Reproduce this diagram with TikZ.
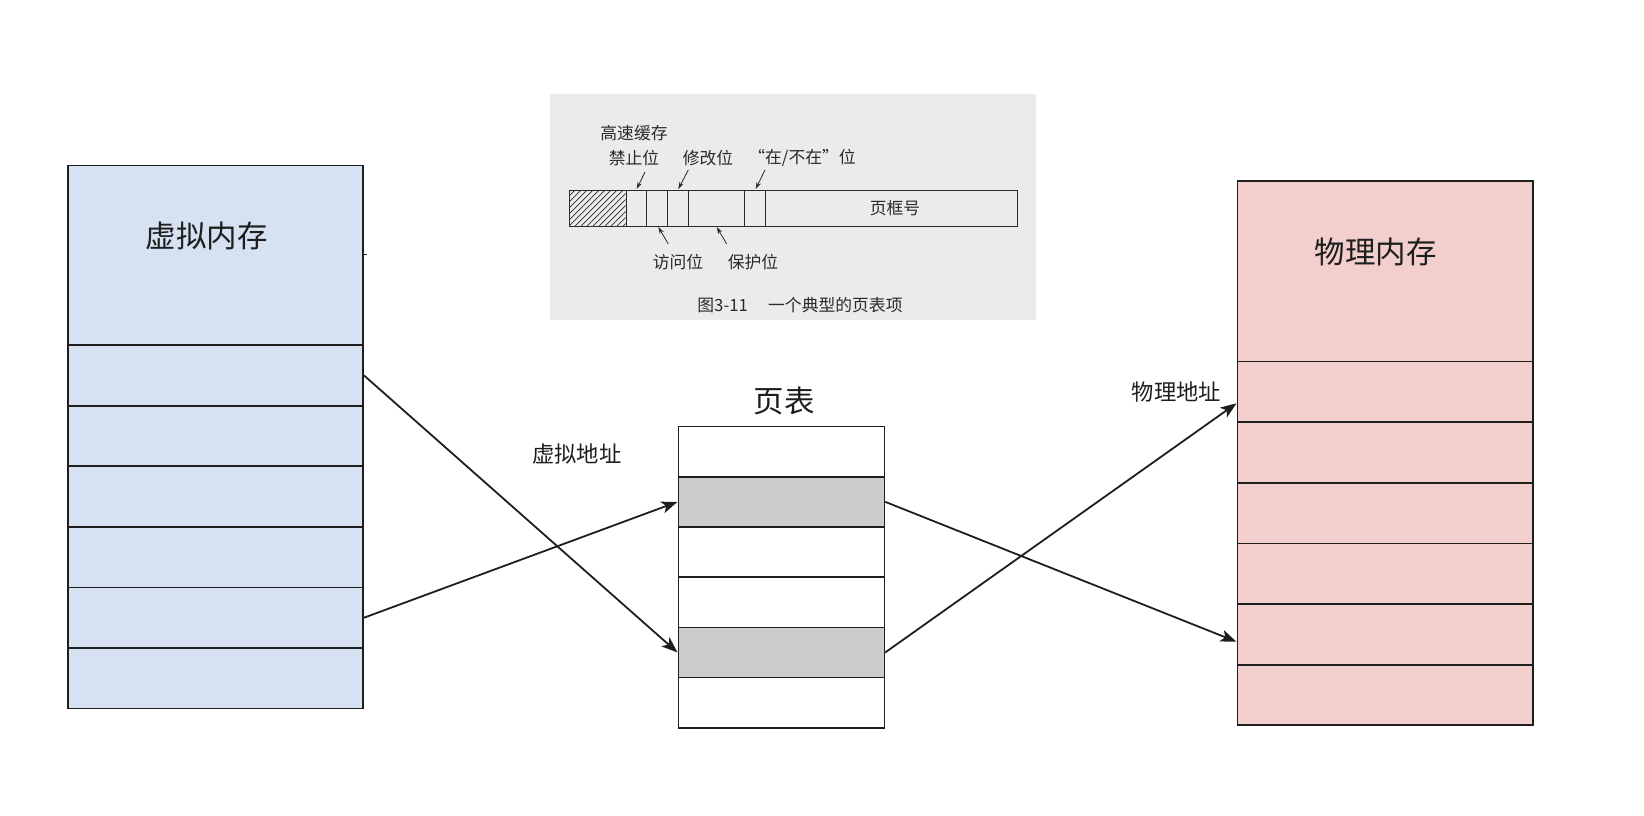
\documentclass[tikz,border=0pt]{standalone}
\usepackage{fontspec}
\setmainfont{Noto Sans CJK SC}
\usetikzlibrary{arrows.meta}
\definecolor{vmfill}{HTML}{D6E2F2}
\definecolor{pmfill}{HTML}{F2CFCD}
\definecolor{ptgray}{HTML}{CCCCCC}
\definecolor{linec}{HTML}{1E1E1E}
\definecolor{scan}{HTML}{EBEBEB}
\definecolor{scanink}{HTML}{2A2A2A}
\begin{document}
\begin{tikzpicture}[x=1pt,y=-1pt,
  cell/.style={draw=linec, line width=1.7pt, rectangle, inner sep=0pt, anchor=north west},
  vmcell/.style={cell, fill=vmfill, minimum width=295.2pt},
  pmcell/.style={cell, fill=pmfill, minimum width=295.4pt},
  ptcell/.style={cell, fill=white, minimum width=206pt, minimum height=50.2pt},
  ptsel/.style={ptcell, fill=ptgray},
  bigtext/.style={font=\fontsize{30.5}{36}\selectfont, text=linec},
  midtext/.style={font=\fontsize{22.3}{27}\selectfont, text=linec},
  bit/.style={draw=scanink, line width=1.1pt, rectangle, inner sep=0pt, anchor=north west, minimum height=36pt},
  scantext/.style={font=\fontsize{16.8}{25}\selectfont, text=scanink, inner sep=0pt},
  conn/.style={draw=linec, line width=1.8pt, -{Stealth[length=16pt,width=12pt,inset=4pt]}},
  pointer/.style={draw=scanink, line width=0.8pt, -{Stealth[length=7pt,width=4.5pt]}}
]
\useasboundingbox (0,0) rectangle (1644,816);

% ---------- virtual memory ----------
\node[vmcell, minimum height=179.7pt] (vm0) at (67.1,164.6) {};
\foreach \i in {1,...,6}
  \node[vmcell, minimum height=60.57pt] (vm\i) at (67.1,{344.3+(\i-1)*60.57}) {};
\node[bigtext] (vmlabel) at (206.6,236) {虚拟内存};
\draw[linec, line width=1.2pt] (vm0.north east |- 0,254.3) -- ++(3,0);

% ---------- page table ----------
\node[ptcell] (pt0) at (677.5,425.7) {};
\node[ptsel]  (pt1) at (677.5,475.9) {};
\node[ptcell] (pt2) at (677.5,526.1) {};
\node[ptcell] (pt3) at (677.5,576.3) {};
\node[ptsel]  (pt4) at (677.5,626.5) {};
\node[ptcell] (pt5) at (677.5,676.7) {};
\node[bigtext] (ptlabel) at (784.3,400.5) {页表};

% ---------- physical memory ----------
\node[pmcell, minimum height=180.4pt] (pm0) at (1236.5,180.3) {};
\foreach \i in {1,...,6}
  \node[pmcell, minimum height=60.63pt] (pm\i) at (1236.5,{360.7+(\i-1)*60.63}) {};
\node[bigtext] (pmlabel) at (1375.6,251.6) {物理内存};

% ---------- labels ----------
\node[midtext] (valabel) at (576.7,454) {虚拟地址};
\node[midtext] (palabel) at (1176.4,392.1) {物理地址};

% ---------- connectors ----------
\coordinate (pmA) at (1236.5,403.3);
\coordinate (pmB) at (1236.5,641.7);
\draw[conn] (vm1.east) -- (pt4.west);
\draw[conn] (vm5.east) -- (pt1.west);
\draw[conn] (pt1.east) -- (pmB);
\draw[conn] (pt4.east) -- (pmA);

% ---------- inset: typical page table entry ----------
\fill[scan] (550,94) rectangle (1036,320);
\begin{scope}
  \clip (569,190) rectangle (625.7,226);
  \foreach \k in {-36,-30,...,60}
    \draw[scanink, line width=0.7pt] ({569+\k},226) -- ++(36,-36);
\end{scope}
\node[bit, minimum width=56.7pt] (hatch) at (569,190) {};
\node[bit, minimum width=20.3pt] (b1) at (625.7,190) {};
\node[bit, minimum width=21pt]   (b2) at (646,190) {};
\node[bit, minimum width=20.7pt] (b3) at (667,190) {};
\node[bit, minimum width=56.6pt] (b4) at (687.7,190) {};
\node[bit, minimum width=20.7pt] (b5) at (744.3,190) {};
\node[bit, minimum width=251.7pt] (b6) at (765,190) {};
\node[scantext] (frame) at (895,208) {页框号};

\node[scantext, align=center] (cachebit) at (634,145.5) {高速缓存\\禁止位};
\node[scantext] (modbit) at (708,158) {修改位};
\node[scantext] (presbit) at (802,158) {“在/不在”位};
\node[scantext] (accbit) at (678,262) {访问位};
\node[scantext] (protbit) at (753,262) {保护位};
\node[scantext] (caption) at (800,305) {图3-11\hspace{1.2em}一个典型的页表项};

\coordinate (c1s) at (645,172); \coordinate (c1e) at (636.7,189);
\coordinate (c2s) at (688.3,170); \coordinate (c2e) at (678.3,189);
\coordinate (c3s) at (765,170); \coordinate (c3e) at (755.7,189);
\coordinate (c4s) at (668.3,244); \coordinate (c4e) at (658.3,227);
\coordinate (c5s) at (726.7,244); \coordinate (c5e) at (716.7,227);
\draw[pointer] (c1s) -- (c1e);
\draw[pointer] (c2s) -- (c2e);
\draw[pointer] (c3s) -- (c3e);
\draw[pointer] (c4s) -- (c4e);
\draw[pointer] (c5s) -- (c5e);
\end{tikzpicture}
\end{document}
